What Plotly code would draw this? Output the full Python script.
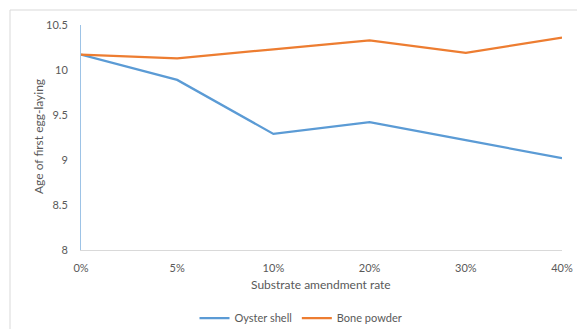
import plotly.graph_objects as go

categories = ["0%", "5%", "10%", "20%", "30%", "40%"]
oyster_shell = [10.17, 9.89, 9.29, 9.42, 9.22, 9.02]
bone_powder = [10.17, 10.13, 10.23, 10.33, 10.19, 10.36]
y_ticks = [8, 8.5, 9, 9.5, 10, 10.5]
y_tick_labels = ["8", "8.5", "9", "9.5", "10", "10.5"]
x_title = "Substrate amendment rate"
y_title = "Age of first egg-laying"

W, H = 577, 329
L, R, T, B = 81, 15, 25, 79
pw, ph = W - L - R, H - T - B

font = dict(family="Lato, 'Open Sans', sans-serif", size=11, color="#595959")
title_font = dict(family=font["family"], size=12, color="#595959")

fig = go.Figure()
fig.add_trace(go.Scatter(x=categories, y=oyster_shell, mode="lines", name="Oyster shell",
                         line=dict(color="#5B9BD5", width=2.25)))
fig.add_trace(go.Scatter(x=categories, y=bone_powder, mode="lines", name="Bone powder",
                         line=dict(color="#ED7D31", width=2.25)))

def px_x(px):
    return (px - L) / pw

def px_y(py):
    return (H - B - py) / ph

fig.update_layout(
    width=W, height=H,
    margin=dict(l=L, r=R, t=T, b=B, pad=0, autoexpand=False),
    paper_bgcolor="white", plot_bgcolor="white",
    font=font,
    showlegend=True,
    legend=dict(orientation="h", x=px_x(301), xanchor="center", y=px_y(318), yanchor="middle",
                font=font, itemwidth=30, tracegroupgap=0),
    xaxis=dict(type="category", range=[0, len(categories) - 1], showgrid=False,
               showline=True, linecolor="#D9D9D9", linewidth=1, ticks="",
               tickfont=font, ticklabelstandoff=8, automargin=False,
               zeroline=False, fixedrange=True),
    yaxis=dict(range=[8, 10.5], tickvals=y_ticks, ticktext=y_tick_labels, showgrid=False,
               showline=True, linecolor="#9DC3E6", linewidth=1, ticks="",
               tickfont=font, ticklabelstandoff=10, automargin=False,
               zeroline=False, fixedrange=True),
    annotations=[
        dict(text=x_title, xref="paper", yref="paper", x=px_x(321), y=px_y(284),
             xanchor="center", yanchor="middle", showarrow=False, font=title_font),
        dict(text=y_title, xref="paper", yref="paper", x=px_x(38), y=px_y(137),
             xanchor="center", yanchor="middle", showarrow=False, font=title_font, textangle=-90),
    ],
    shapes=[
        dict(type="line", xref="paper", yref="paper", x0=px_x(10), x1=px_x(W + 5), y0=px_y(10), y1=px_y(10),
             line=dict(color="#D9D9D9", width=1)),
        dict(type="line", xref="paper", yref="paper", x0=px_x(10), x1=px_x(10), y0=px_y(10), y1=px_y(H + 5),
             line=dict(color="#D9D9D9", width=1)),
    ],
)

fig.write_html("out.html")
